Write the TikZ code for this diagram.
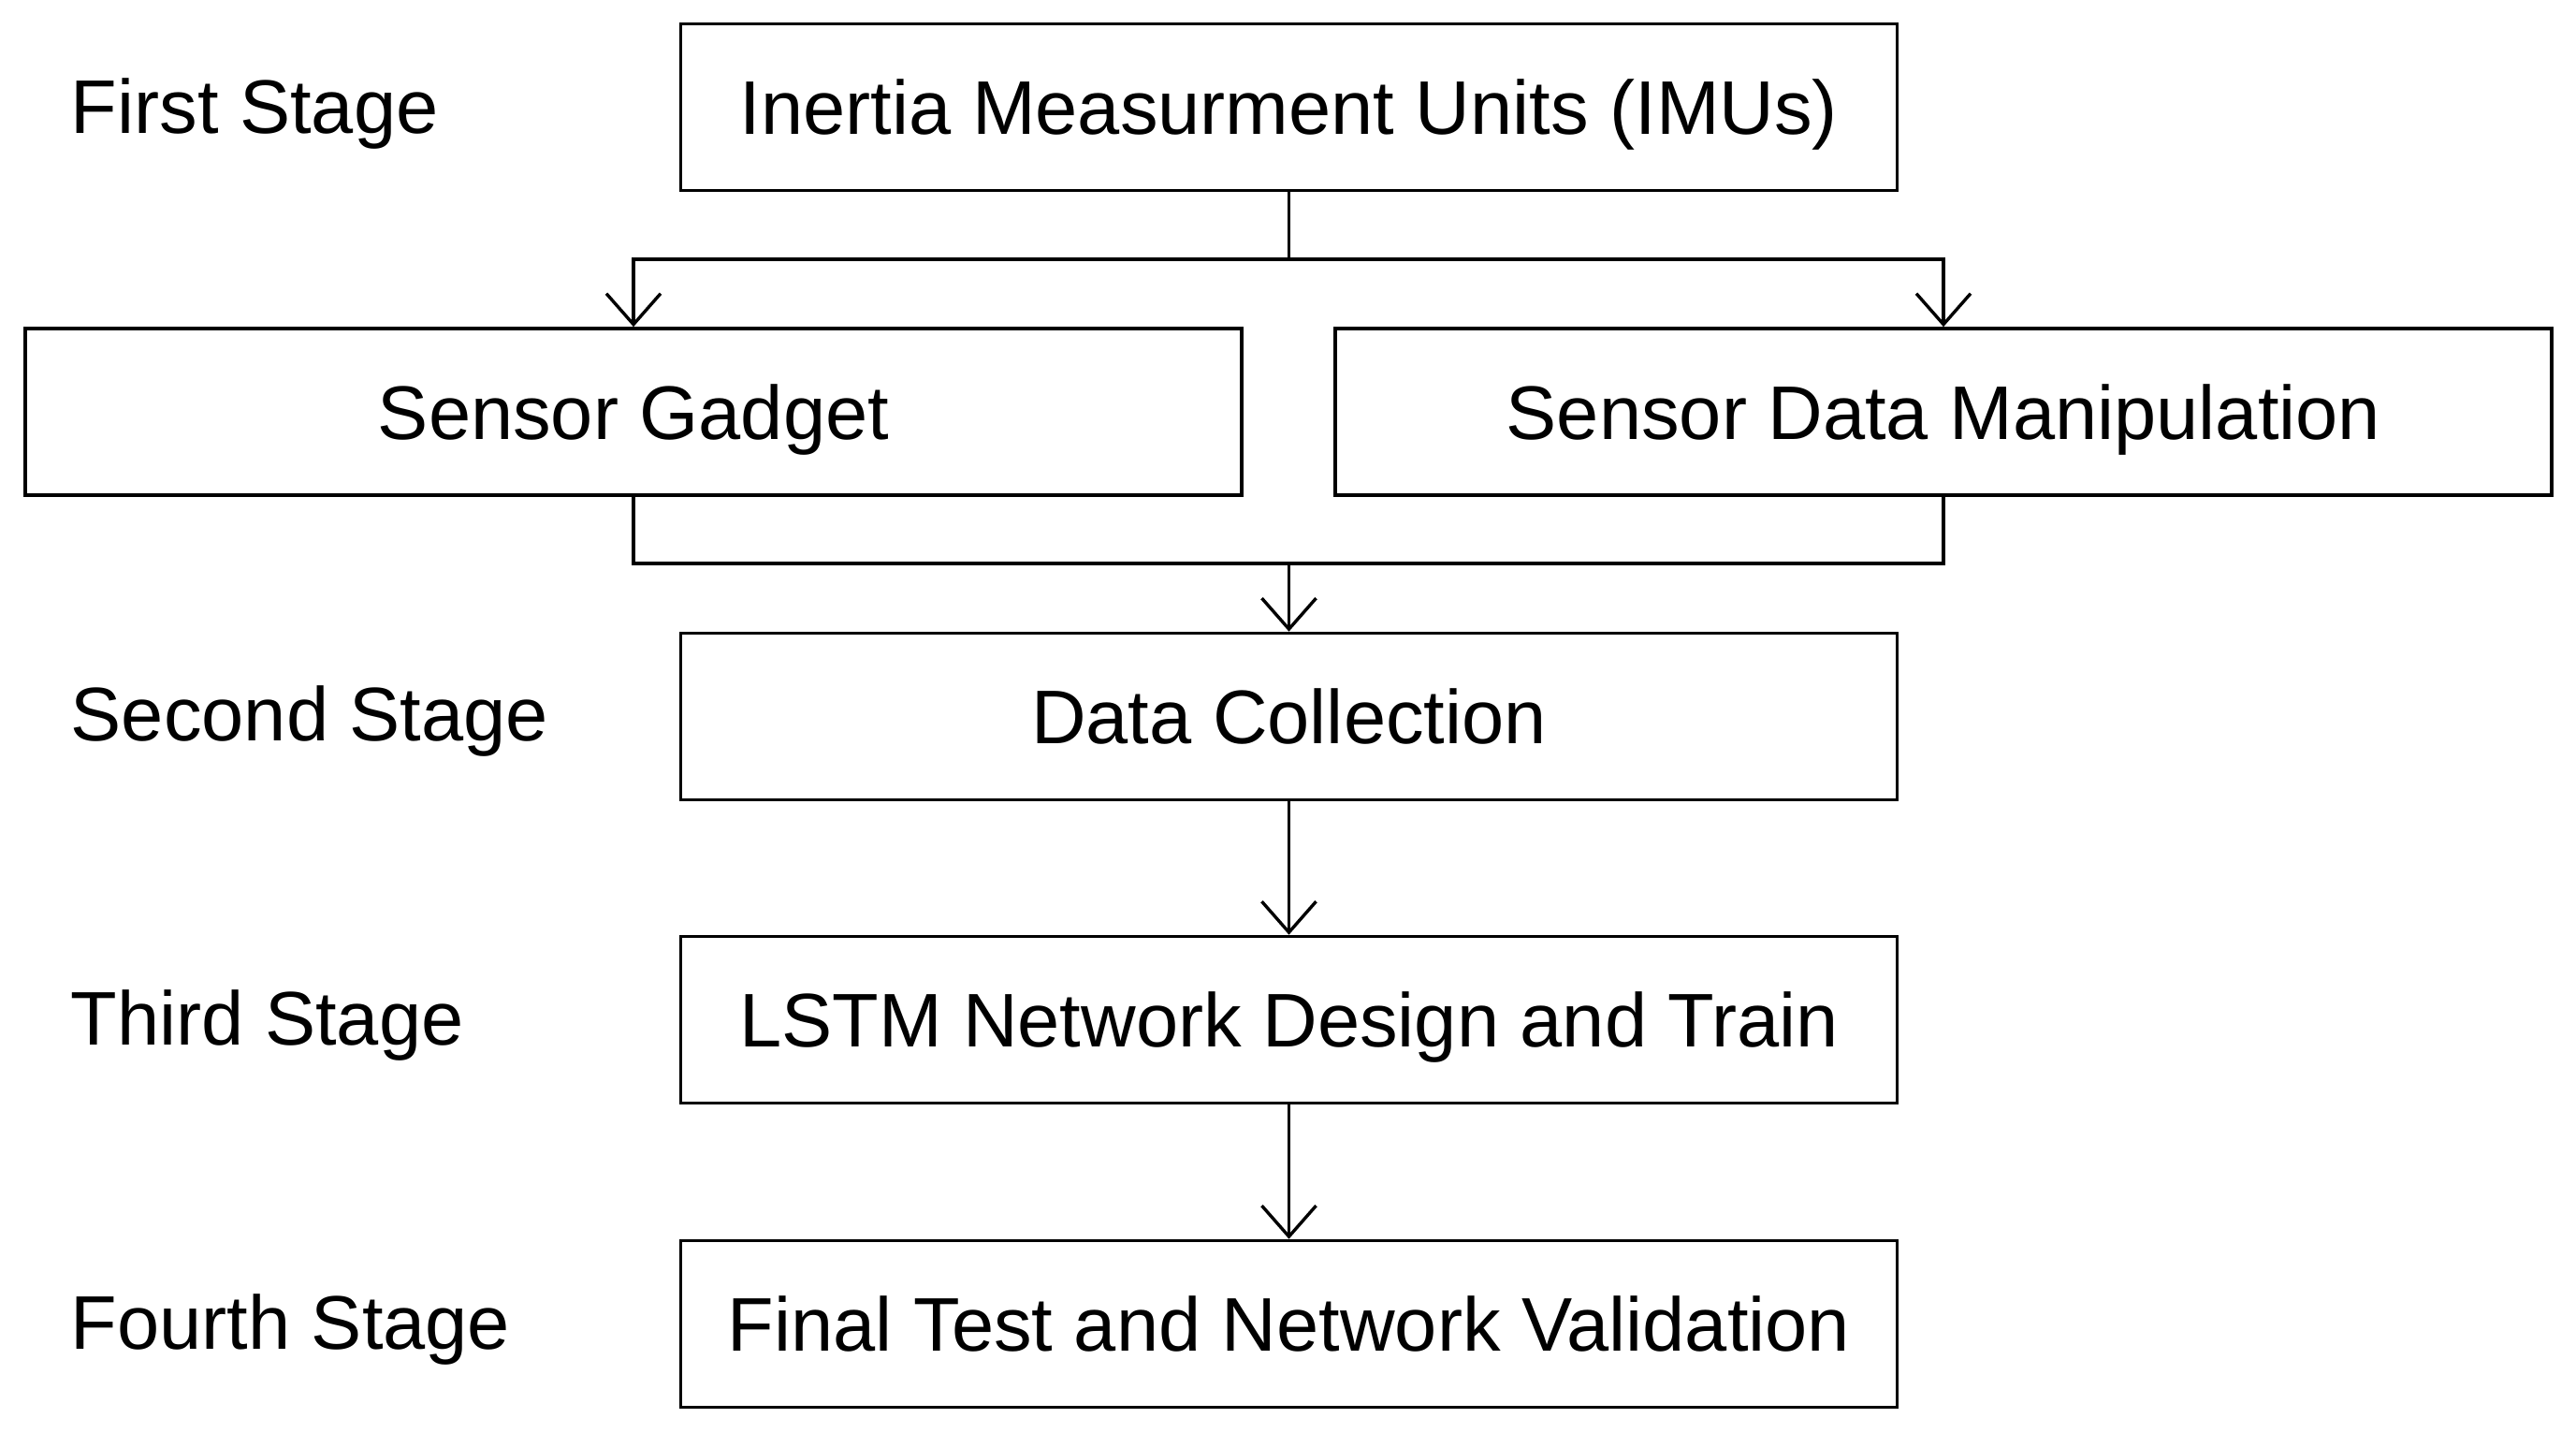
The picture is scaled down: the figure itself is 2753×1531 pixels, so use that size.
\documentclass[tikz,border=0pt]{standalone}
\usepackage{fontspec}
\setmainfont{Liberation Sans}
\usetikzlibrary{arrows.meta}
\begin{document}
\begin{tikzpicture}[x=0.25pt,y=-0.25pt,
  every node/.style={font=\fontsize{20.3pt}{24pt}\selectfont, text height=14.5pt, text depth=0pt, inner sep=0pt},
  stagebox/.style={draw=black, line width=0.9pt, minimum width=325pt, minimum height=44.5pt, fill=white},
  stagelabel/.style={anchor=west},
  arr/.style={line width=0.85pt, -{Straight Barb[length=8.25pt,width=14.5pt,line width=0.85pt]}},
  conn/.style={line width=0.85pt}]
\fill[white] (0,0) rectangle (2753,1531);
\useasboundingbox (0,0) rectangle (2753,1531);

\node[stagebox] (imu) at (1377.5,114.5) {Inertia Measurment Units (IMUs)};
\node[stagebox] (sg) at (677,440) {Sensor Gadget};
\node[stagebox] (sdm) at (2077,440) {Sensor Data Manipulation};
\node[stagebox] (dc) at (1377.5,765.5) {Data Collection};
\node[stagebox] (lstm) at (1377.5,1089.5) {LSTM Network Design and Train};
\node[stagebox] (fin) at (1377.5,1414.5) {Final Test and Network Validation};

\node[stagelabel] (l1) at (75,113) {First Stage};
\node[stagelabel] (l2) at (75,762) {Second Stage};
\node[stagelabel] (l3) at (75,1087) {Third Stage};
\node[stagelabel] (l4) at (75,1412) {Fourth Stage};

\coordinate (split) at (1377.5,277);
\coordinate (merge) at (1377.5,602);

\draw[conn] (imu.south) -- (split);
\draw[arr] (split) -| (sg.north);
\draw[arr] (split) -| (sdm.north);
\draw[conn] (sg.south) |- (merge);
\draw[conn] (sdm.south) |- (merge);
\draw[arr] (merge) -- (dc.north);
\draw[arr] (dc.south) -- (lstm.north);
\draw[arr] (lstm.south) -- (fin.north);
\end{tikzpicture}
\end{document}
